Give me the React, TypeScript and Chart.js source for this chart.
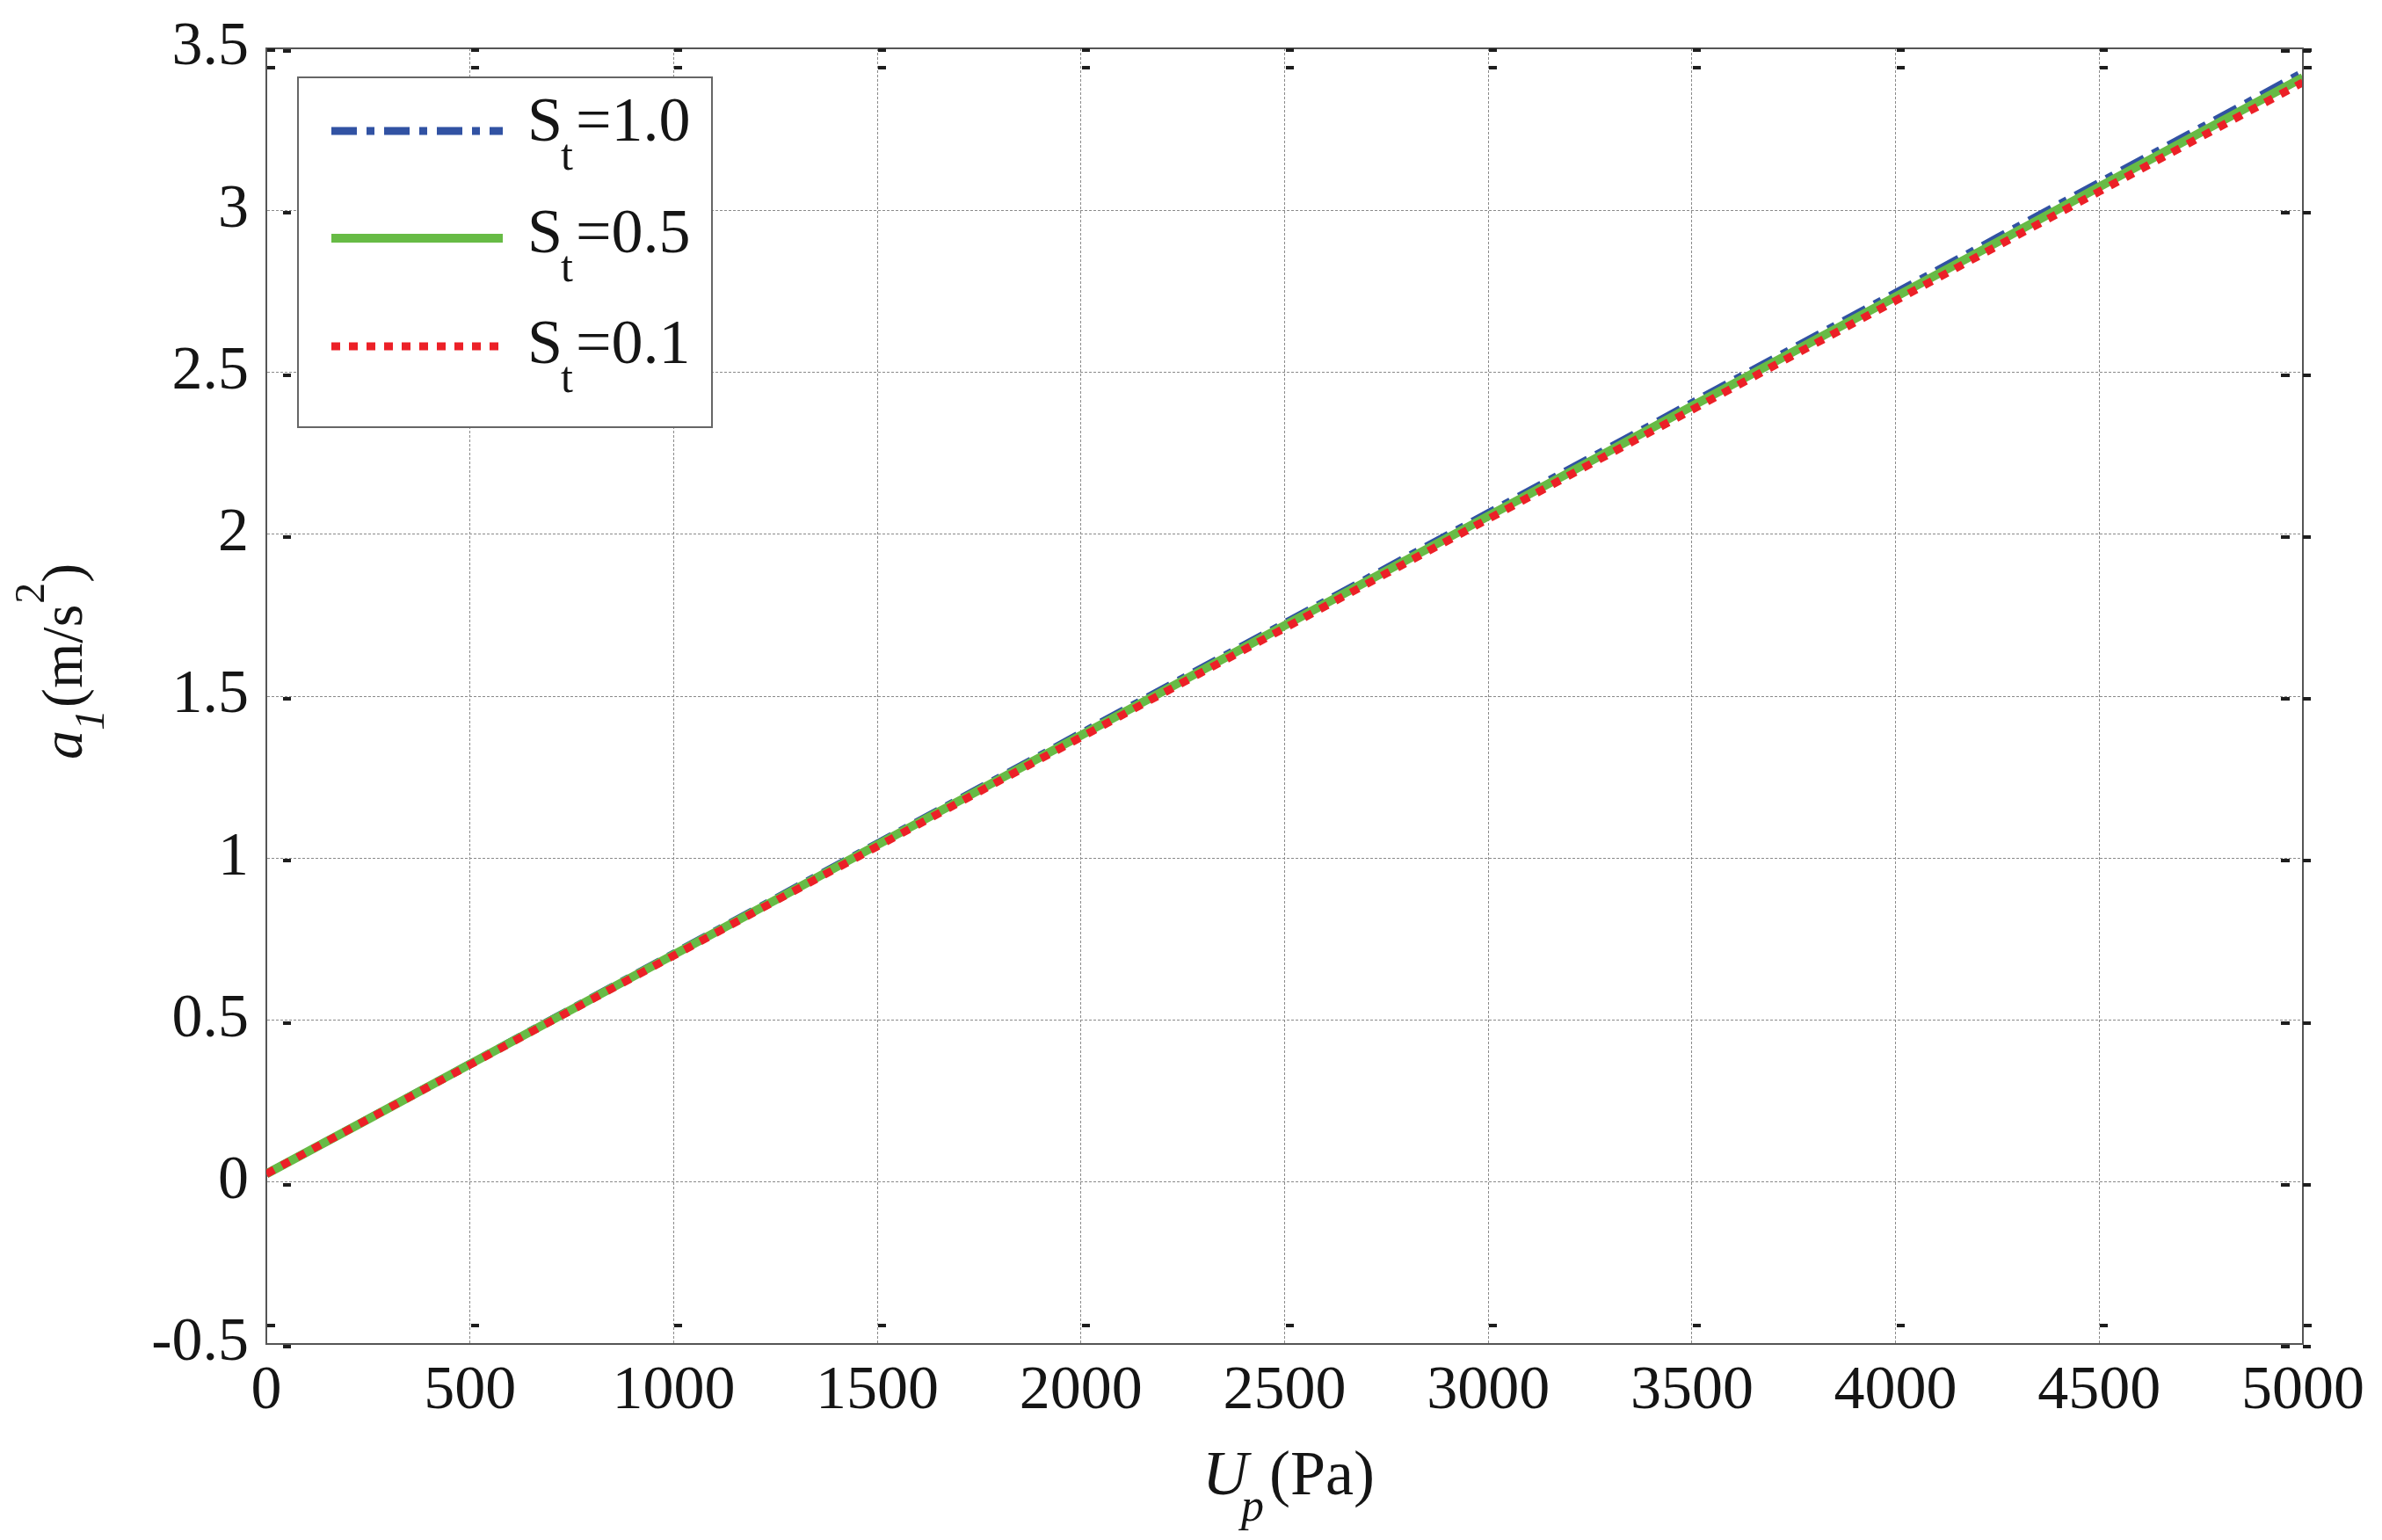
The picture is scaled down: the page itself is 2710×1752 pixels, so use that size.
import React, { useEffect, useRef } from "react";
import { Chart, registerables } from "chart.js";

Chart.register(...registerables);

// ---- data ----
const pressure = [0, 250, 500, 750, 1000, 1250, 1500, 1750, 2000, 2250, 2500, 2750, 3000, 3250, 3500, 3750, 4000, 4250, 4500, 4750, 5000];
const accelSt10 = [0.025, 0.195, 0.365, 0.535, 0.705, 0.875, 1.045, 1.215, 1.385, 1.555, 1.725, 1.895, 2.065, 2.235, 2.405, 2.575, 2.745, 2.915, 3.085, 3.255, 3.425];
const accelSt05 = [0.025, 0.194, 0.364, 0.533, 0.702, 0.871, 1.041, 1.210, 1.379, 1.548, 1.718, 1.887, 2.056, 2.225, 2.395, 2.564, 2.733, 2.902, 3.072, 3.241, 3.410];
const accelSt01 = [0.025, 0.194, 0.362, 0.531, 0.699, 0.868, 1.036, 1.205, 1.373, 1.542, 1.710, 1.879, 2.047, 2.216, 2.384, 2.553, 2.721, 2.890, 3.058, 3.227, 3.395];
const seriesLabels = ["1.0", "0.5", "0.1"];
const xMin = 0, xMax = 5000, xStep = 500;
const yMin = -0.5, yMax = 3.5, yStep = 0.5;

const FONT = '"Liberation Serif"';
const BLUE = "#3152a3";
const GREEN = "#67bb45";
const RED = "#ec2027";

type Part = { text: string; italic?: boolean; size: number; dy?: number; dx?: number };

function drawParts(ctx: CanvasRenderingContext2D, parts: Part[], x: number, y: number) {
  let cx = x;
  for (const p of parts) {
    ctx.font = `${p.italic ? "italic " : ""}${p.size}px ${FONT}`;
    cx += p.dx ?? 0;
    ctx.fillText(p.text, cx, y + (p.dy ?? 0));
    cx += ctx.measureText(p.text).width;
  }
}

const decorPlugin = {
  id: "decor",
  afterDraw(chart: any) {
    const ctx: CanvasRenderingContext2D = chart.ctx;
    const a = chart.chartArea;
    const xs = chart.scales.x;
    const ys = chart.scales.y;
    ctx.save();
    // top and right frame
    ctx.strokeStyle = "#555";
    ctx.lineWidth = 2;
    ctx.beginPath();
    ctx.moveTo(a.left, a.top);
    ctx.lineTo(a.right, a.top);
    ctx.lineTo(a.right, a.bottom);
    ctx.stroke();

    // tick dashes (as printed in the reference)
    ctx.fillStyle = "#1e1e1e";
    for (const t of xs.ticks) {
      const px = Math.round(xs.getPixelForValue(t.value));
      ctx.fillRect(px + 1, a.top, 9, 4);
      ctx.fillRect(px + 1, a.top + 20, 9, 4);
      ctx.fillRect(px + 1, a.bottom - 23, 9, 4);
    }
    for (const t of ys.ticks) {
      const py = Math.round(ys.getPixelForValue(t.value));
      ctx.fillRect(a.left + 19, py + 1, 9, 4);
      ctx.fillRect(a.right - 25, py + 1, 10, 4);
      ctx.fillRect(a.right, py + 1, 9, 4);
    }

    // legend
    const lx = a.left + 36, ly = a.top + 33, lw = 471, lh = 398;
    ctx.fillStyle = "#fff";
    ctx.fillRect(lx, ly, lw, lh);
    ctx.strokeStyle = "#666";
    ctx.lineWidth = 2;
    ctx.strokeRect(lx, ly, lw, lh);
    const ds = chart.data.datasets;
    const rowsLineY = [149, 271, 394];
    const rowsBase = [160, 287, 413];
    for (let i = 0; i < ds.length; i++) {
      ctx.save();
      ctx.strokeStyle = ds[i].borderColor;
      ctx.lineWidth = ds[i].borderWidth;
      ctx.setLineDash(ds[i].borderDash || []);
      ctx.beginPath();
      ctx.moveTo(377, rowsLineY[i]);
      ctx.lineTo(572, rowsLineY[i]);
      ctx.stroke();
      ctx.restore();
      ctx.fillStyle = "#151515";
      ctx.textBaseline = "alphabetic";
      ctx.textAlign = "left";
      drawParts(ctx, [
        { text: "S", size: 72 },
        { text: "t", size: 50, dy: 33, dx: -2 },
        { text: "=" + seriesLabels[i], size: 72, dx: 3 },
      ], 600, rowsBase[i]);
    }

    // axis titles
    ctx.fillStyle = "#151515";
    ctx.textBaseline = "alphabetic";
    ctx.textAlign = "left";
    drawParts(ctx, [
      { text: "U", italic: true, size: 72 },
      { text: "p", italic: true, size: 52, dy: 30, dx: -8 },
      { text: "(Pa)", size: 72, dx: 6 },
    ], 1368, 1700);

    ctx.save();
    ctx.translate(93, 864);
    ctx.rotate(-Math.PI / 2);
    drawParts(ctx, [
      { text: "a", italic: true, size: 66 },
      { text: "1", italic: true, size: 48, dy: 25, dx: 0 },
      { text: "(m/s", size: 66, dx: 2 },
      { text: "2", size: 48, dy: -43, dx: 1 },
      { text: ")", size: 66, dx: 0 },
    ], 0, 0);
    ctx.restore();

    ctx.restore();
  },
};

export default function App() {
  const ref = useRef<HTMLCanvasElement | null>(null);

  useEffect(() => {
    let chart: any = null;
    let cancelled = false;
    const build = () => {
      if (cancelled || !ref.current) return;
      const mk = (ys: number[]) => ys.map((y, i) => ({ x: pressure[i], y }));
      chart = new Chart(ref.current, {
        type: "line",
        data: {
          datasets: [
            {
              label: "St=" + seriesLabels[0],
              data: mk(accelSt10),
              borderColor: BLUE,
              borderWidth: 9,
              borderDash: [29, 11, 9, 11],
              pointRadius: 0,
              tension: 0,
              order: 3,
            },
            {
              label: "St=" + seriesLabels[1],
              data: mk(accelSt05),
              borderColor: GREEN,
              borderWidth: 10,
              pointRadius: 0,
              tension: 0,
              order: 2,
            },
            {
              label: "St=" + seriesLabels[2],
              data: mk(accelSt01),
              borderColor: RED,
              borderWidth: 9,
              borderDash: [10, 10],
              pointRadius: 0,
              tension: 0,
              order: 1,
            },
          ],
        },
        options: {
          animation: false,
          responsive: false,
          devicePixelRatio: 1,
          layout: { padding: { left: 0, top: 42, right: 73, bottom: 0 } },
          plugins: {
            legend: { display: false },
            tooltip: { enabled: false },
            title: { display: false },
          },
          scales: {
            x: {
              type: "linear",
              min: xMin,
              max: xMax,
              ticks: {
                stepSize: xStep,
                color: "#151515",
                font: { family: FONT, size: 70, lineHeight: 1 },
                padding: 20,
                maxRotation: 0,
                autoSkip: false,
                callback: (v: any) => String(v),
              },
              grid: { color: "#8a8a8a", lineWidth: 1, drawTicks: false },
              border: { display: true, color: "#555", width: 2, dash: [3, 2] },
              afterFit: (s: any) => { s.height = 1752 - 1529; },
            },
            y: {
              type: "linear",
              min: yMin,
              max: yMax,
              ticks: {
                stepSize: yStep,
                color: "#151515",
                font: { family: FONT, size: 70, lineHeight: 1 },
                padding: 20,
                autoSkip: false,
                callback: (v: any) => String(v),
              },
              grid: { color: "#8a8a8a", lineWidth: 1, drawTicks: false },
              border: { display: true, color: "#555", width: 2, dash: [3, 2] },
              afterFit: (s: any) => { s.width = 303; },
            },
          },
        },
        plugins: [decorPlugin],
      } as any);
    };
    const fontsApi: any = (document as any).fonts;
    if (fontsApi && fontsApi.load) {
      Promise.all([
        fontsApi.load(`70px ${FONT}`),
        fontsApi.load(`italic 70px ${FONT}`),
      ]).then(build, build);
    } else {
      build();
    }
    return () => {
      cancelled = true;
      if (chart) chart.destroy();
    };
  }, []);

  return (
    <div style={{ position: "fixed", left: 0, top: 0, width: 2710, height: 1752, background: "#fff" }}>
      <span style={{ fontFamily: FONT, position: "absolute", left: -1000, top: 0 }}>0</span>
      <span style={{ fontFamily: FONT, fontStyle: "italic", position: "absolute", left: -1000, top: 0 }}>U</span>
      <canvas ref={ref} width={2710} height={1752} style={{ width: 2710, height: 1752, display: "block" }} />
    </div>
  );
}
